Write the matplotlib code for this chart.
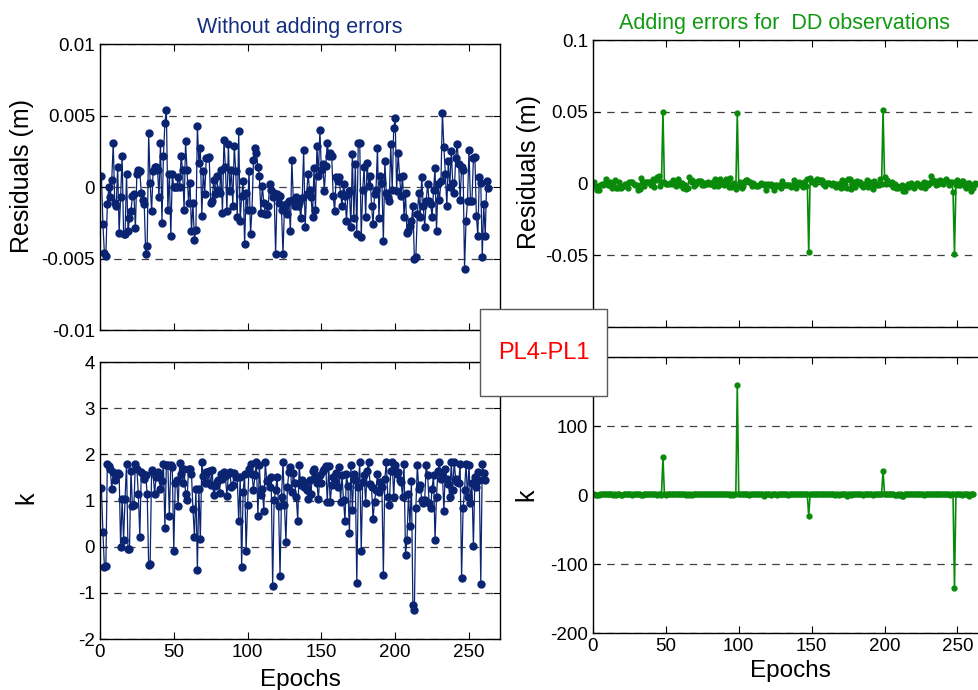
import numpy as np
import matplotlib.pyplot as plt
from matplotlib.patches import Rectangle

plt.rcParams['font.family'] = ['Liberation Sans', 'DejaVu Sans']

# residuals (m) without added errors, one value per epoch
resid = [
    0.00077, -0.0026, -0.0046, -0.0048, -0.0012, 0.0, -0.0007, 0.0005, 0.0031, -0.0011,
    -0.0013, 0.0014, -0.0032, -0.0007, 0.0022, -0.0033, -0.0033, 0.0009, -0.0031, -0.0022,
    -0.0017, -0.0006, -0.0005, -0.0029, 0.0009, 0.0012, 0.0011, -0.0004, -0.0009, -0.0012,
    -0.0047, -0.0041, 0.0038, 0.0003, -0.0017, 0.0011, 0.0014, 0.0014, 0.0012, -0.0007,
    0.0031, -0.0025, 0.0022, 0.0045, 0.0054, -0.0016, 0.0009, -0.0034, 0.0009, 0.0,
    0.0, 0.0, 0.0007, 0.0, 0.0022, 0.0012, -0.0016, 0.0032, 0.0012, -0.0011,
    0.0003, -0.0031, -0.0011, -0.0037, -0.003, 0.0043, 0.0017, 0.0027, -0.002, 0.0011,
    -0.0005, 0.002, 0.002, 0.0021, -0.0011, -0.001, 0.0005, -0.0005, 0.0008, -0.0002,
    -0.0004, 0.0012, -0.0018, 0.0033, 0.0014, -0.0017, 0.003, -0.0003, 0.0012, -0.0013,
    0.0029, 0.0011, -0.0021, 0.0039, -0.0024, -0.0006, 0.0004, -0.004, -0.0004, -0.0016,
    0.0011, -0.0033, -0.0016, 0.0019, 0.0027, 0.0024, 0.0014, 0.0008, -0.0018, 0.0001,
    -0.0011, -0.0019, -0.0019, -0.0013, 0.0002, -0.0002, -0.0007, -0.0004, -0.0047, -0.0005,
    -0.0011, -0.0006, -0.0016, -0.0047, -0.0013, -0.0012, -0.0019, -0.001, -0.0031, 0.0019,
    -0.0009, -0.0013, -0.0007, -0.0013, -0.0011, -0.0022, -0.0008, 0.0026, -0.0028, -0.0005,
    0.0009, -0.0002, -0.0007, -0.0021, 0.0013, -0.0016, 0.0029, 0.0008, 0.004, 0.0012,
    0.0016, -0.0003, 0.0015, 0.0031, 0.0022, 0.0024, 0.0022, -0.0006, -0.0017, 0.0007,
    0.0004, 0.0007, -0.0005, -0.0013, 0.0002, -0.0006, -0.0024, -0.0005, -0.0003, -0.0028,
    0.0023, -0.0022, 0.0016, -0.0033, 0.0031, 0.0031, -0.0035, -0.0002, 0.0014, -0.0021,
    0.0017, 0.0001, 0.0008, -0.0013, -0.0026, -0.0005, -0.0002, 0.0027, -0.0022, 0.0008,
    0.0003, -0.0038, 0.0018, -0.0004, -0.0007, -0.001, 0.003, -0.0002, 0.0041, 0.0048,
    -0.0003, 0.0024, 0.0007, -0.0006, 0.0008, -0.0021, -0.0004, -0.0032, -0.0031, -0.0027,
    -0.0024, -0.0013, -0.005, -0.0049, -0.0019, -0.0004, -0.0021, 0.0007, -0.0013, -0.0028,
    -0.001, 0.0002, -0.001, -0.0012, -0.0021, -0.0002, 0.0013, -0.0031, 0.0002, -0.0009,
    0.0004, 0.0052, 0.0028, 0.0009, -0.0013, 0.0018, 0.0, 0.0025, 0.0003, -0.0004,
    0.002, 0.003, 0.0016, -0.0009, 0.0014, 0.0012, -0.0057, -0.0024, -0.001, 0.0026,
    -0.001, -0.001, 0.002, 0.0021, -0.002, -0.0034, 0.0007, 0.0003, -0.0049, -0.0012,
    -0.0034, 0.0004, -0.0001,
]

# k values without added errors
k_vals = [
    1.27, 0.32, -0.43, -0.41, 1.8, 1.74, 1.69, 1.24, 1.62, 1.44,
    1.58, 1.6, 1.58, -0.01, 1.04, 0.14, 1.04, 1.8, -0.06, -0.06,
    1.65, 0.88, 0.9, 1.8, 1.69, 1.15, 0.22, 1.62, 1.57, 1.47,
    1.55, 1.14, -0.4, -0.37, 1.67, 1.62, 1.14, 1.5, 1.62, 1.53,
    1.24, 1.42, 1.8, 0.4, 1.78, 1.76, 0.66, 1.76, 1.73, -0.09,
    1.38, 1.44, 0.88, 1.81, 1.58, 1.37, 1.69, 1.15, 1.01, 1.69,
    1.69, 1.58, 0.81, 0.22, 1.26, -0.5, 1.26, 0.16, 1.83, 1.53,
    1.38, 1.62, 1.38, 1.64, 1.33, 1.67, 1.12, 1.31, 1.4, 1.45,
    1.17, 1.58, 1.47, 1.62, 1.53, 1.09, 1.58, 1.62, 1.29, 1.33,
    1.6, 1.51, 1.51, 0.56, 1.51, -0.43, 1.19, 1.58, -0.09, 0.9,
    1.69, 1.8, 1.57, 1.22, 1.55, 1.83, 0.66, 1.76, 1.12, 1.24,
    0.78, 1.83, 1.42, 1.44, 1.29, 1.5, -0.85, 1.01, 1.22, 1.5,
    0.88, -0.63, 1.08, 1.83, 0.9, 0.11, 1.29, 1.62, 1.73, 1.19,
    1.6, 1.37, 1.08, 0.56, 1.76, 1.33, 1.45, 1.29, 1.37, 1.22,
    1.04, 1.44, 1.14, 1.65, 1.69, 1.5, 1.37, 1.04, 1.55, 1.38,
    1.65, 1.69, 1.74, 0.97, 1.74, 0.97, 1.33, 1.52, 1.4, 1.6,
    1.29, 1.73, 0.97, 1.55, 1.01, 0.56, 1.58, 1.31, 0.29, 1.76,
    0.79, 1.57, 1.44, -0.79, 1.29, 1.83, -0.09, 1.4, 1.55, 0.94,
    1.65, 1.83, 1.35, 1.29, 0.59, 0.97, 1.22, 1.57, 1.19, 1.4,
    1.29, -0.61, 1.47, 1.83, 1.08, 0.9, 1.65, 1.83, 1.08, 1.76,
    1.58, 1.62, 1.44, 1.4, 1.08, 1.8, -0.17, 0.14, 1.15, 0.45,
    1.42, -1.26, -1.37, 0.83, 1.76, 1.26, 1.33, 1.01, 0.94, 1.01,
    1.76, 1.55, 0.94, 0.83, 1.26, 1.55, 0.14, 1.08, 1.65, 1.83,
    1.47, 1.58, 0.77, 1.69, 1.47, 1.35, 1.08, 1.83, 1.22, 1.83,
    1.47, 1.4, 1.37, 1.8, -0.68, 0.83, 1.22, 1.8, 1.08, 1.78,
    0.94, 1.37, 0.01, 1.5, 1.3, 1.62, 1.45, -0.8, 1.8, 1.6,
    1.45,
]

# epochs where errors were added to the DD observations
spike_epochs = [48, 99, 148, 199, 248]
spike_resid = [0.050, 0.049, -0.048, 0.051, -0.049]
spike_k = [55, 160, -30, 35, -135]

ep_r = np.arange(1, len(resid) + 1)
ep_k = np.arange(1, len(k_vals) + 1)
resid_dd = np.array(resid)
resid_dd[np.array(spike_epochs) - 1] = spike_resid
k_dd = np.array(k_vals)
k_dd[np.array(spike_epochs) - 1] = spike_k

navy = '#0a2472'
green = '#0a8a0a'

fig = plt.figure(figsize=(9.79, 6.9), dpi=100)
ax1 = fig.add_axes([0.1021, 0.5217, 0.4086, 0.4145])
ax2 = fig.add_axes([0.1021, 0.0739, 0.4086, 0.4014])
ax3 = fig.add_axes([0.6057, 0.526, 0.4035, 0.416])
ax4 = fig.add_axes([0.6057, 0.0826, 0.4035, 0.400])


def style(ax, yticks, ylabels):
    ax.set_xlim(0, 271)
    ax.set_ylim(yticks[0], yticks[-1])
    ax.set_yticks(yticks)
    ax.set_yticklabels(ylabels)
    ax.set_xticks([0, 50, 100, 150, 200, 250])
    ax.tick_params(direction='in', top=True, right=True, length=5,
                   labelsize=13.5, width=0.8)
    ax.yaxis.grid(True, linestyle=(0, (6, 5)), color='0.25', linewidth=0.9)
    ax.set_axisbelow(True)
    for s in ax.spines.values():
        s.set_linewidth(1.0)


ax1.plot(ep_r, resid, '-o', color=navy, lw=0.9, ms=5)
style(ax1, [-0.01, -0.005, 0, 0.005, 0.01],
      ['-0.01', '-0.005', '0', '0.005', '0.01'])
ax1.tick_params(labelbottom=False)
ax1.set_ylabel('Residuals (m)', fontsize=18)
ax1.yaxis.set_label_coords(-0.165, 0.54)
ax1.set_title('Without adding errors', color='#142f80', fontsize=15.5, pad=8)

ax2.plot(ep_k, k_vals, '-o', color=navy, lw=0.9, ms=5)
style(ax2, [-2, -1, 0, 1, 2, 3, 4], ['-2', '-1', '0', '1', '2', '3', '4'])
ax2.set_ylabel('k', fontsize=18)
ax2.yaxis.set_label_coords(-0.155, 0.51)
ax2.set_xlabel('Epochs', fontsize=17.5, labelpad=6)

ax3.plot(ep_r, resid_dd, '-o', color=green, lw=1.2, ms=3.5)
# the -0.1 label sits under the PL4-PL1 box
style(ax3, [-0.1, -0.05, 0, 0.05, 0.1], ['', '-0.05', '0', '0.05', '0.1'])
ax3.tick_params(labelbottom=False)
ax3.set_ylabel('Residuals (m)', fontsize=18)
ax3.yaxis.set_label_coords(-0.132, 0.54)
ax3.set_title('Adding errors for  DD observations', color='#119a11',
              fontsize=15.5, pad=8, x=0.485)

ax4.plot(ep_k, k_dd, '-o', color=green, lw=1.2, ms=3.5)
# the 200 label sits under the PL4-PL1 box
style(ax4, [-200, -100, 0, 100, 200], ['-200', '-100', '0', '100', ''])
ax4.set_ylabel('k', fontsize=18)
ax4.yaxis.set_label_coords(-0.138, 0.5)
ax4.set_xlabel('Epochs', fontsize=17.5, labelpad=4)

box = Rectangle((480 / 979, 1 - 396 / 690), 127 / 979, 87 / 690,
                transform=fig.transFigure, facecolor='white',
                edgecolor='0.35', linewidth=1.0, zorder=10)
fig.add_artist(box)
fig.text(543.5 / 979, 1 - 353 / 690, 'PL4-PL1', color='red', fontsize=17,
         ha='center', va='center', zorder=11)

fig.savefig('out.png', dpi=100)
